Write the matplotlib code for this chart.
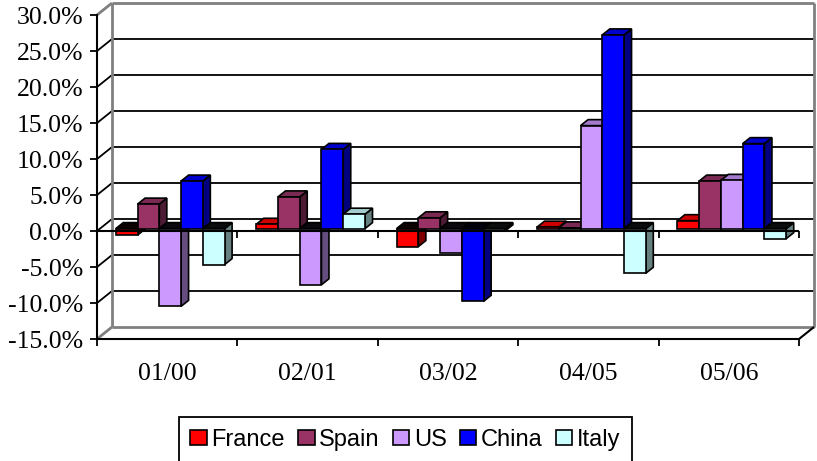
import numpy as np
import matplotlib
matplotlib.use('Agg')
import matplotlib.pyplot as plt
from matplotlib.patches import Polygon, Patch
from matplotlib.colors import to_rgb

# data (percent change)
periods = ['01/00', '02/01', '03/02', '04/05', '05/06']
countries = ['France', 'Spain', 'US', 'China', 'Italy']
colors = ['#FF0000', '#993366', '#CC99FF', '#0000FF', '#CCFFFF']
france = [-0.9, 0.6, -2.5, 0.2, 1.1]
spain = [3.4, 4.4, 1.5, 0.1, 6.6]
us = [-10.8, -7.8, -3.4, 14.3, 6.7]
china = [6.6, 11.0, -10.1, 26.9, 11.8]
italy = [-5.0, 2.0, -0.3, -6.2, -1.4]
series = [france, spain, us, china, italy]
yticks = [-15, -10, -5, 0, 5, 10, 15, 20, 25, 30]

W, H = 817, 461
fig = plt.figure(figsize=(W / 100, H / 100), dpi=100)
ax = fig.add_axes([97 / W, (H - 339) / H, 702 / W, 324 / H])
ax.set_xlim(0, 5)
ax.set_ylim(-15, 30)

# depth offset of the pseudo 3d box, in data units
px_x = 5 / 702.0
px_y = 45 / 324.0
DX = 15 * px_x
DY = 12 * px_y

grey = '#808080'
def line(xs, ys, c='black', lw=1.3, z=1):
    ax.plot(xs, ys, color=c, lw=lw, zorder=z, clip_on=False, solid_capstyle='butt')

# back wall + side wall gridlines
for v in yticks[1:-1]:
    line([DX, 5 + DX], [v + DY, v + DY])
    line([0, DX], [v, v + DY])
line([DX, 5 + DX], [30 + DY, 30 + DY], grey, 2)
line([DX, 5 + DX], [-15 + DY, -15 + DY], grey, 2)
line([DX, DX], [-15 + DY, 30 + DY], grey, 2)
line([5 + DX, 5 + DX], [-15 + DY, 30 + DY], grey, 2)
line([0, DX], [30, 30 + DY], grey, 2)
line([0, DX], [-15, -15 + DY], grey, 2)
line([5, 5 + DX], [-15, -15 + DY], 'black', 1.5)

# bars
f = 0.2   # front of bars, fraction of depth
d = 0.5   # bar depth, fraction of depth
bw = 0.155
start = (1 - 5 * bw) / 2
base = f * DY
ox, oy = d * DX, d * DY

def shade(c, k):
    return tuple(np.array(to_rgb(c)) * k)

z = 3
for i in range(len(periods)):
    for j, vals in enumerate(series):
        v = vals[i]
        c = colors[j]
        x0 = i + start + j * bw + f * DX
        x1 = x0 + bw
        top = base + v
        side = [(x1, base), (x1, top), (x1 + ox, top + oy), (x1 + ox, base + oy)]
        ax.add_patch(Polygon(side, closed=True, fc=shade(c, 0.5), ec='black', lw=1.2, zorder=z, clip_on=False))
        if v >= 0:
            cap = [(x0, top), (x1, top), (x1 + ox, top + oy), (x0 + ox, top + oy)]
            ax.add_patch(Polygon(cap, closed=True, fc=shade(c, 0.8), ec='black', lw=1.2, zorder=z, clip_on=False))
        else:
            cap = [(x0, base), (x1, base), (x1 + ox, base + oy), (x0 + ox, base + oy)]
            ax.add_patch(Polygon(cap, closed=True, fc=shade(c, 0.05), ec='black', lw=1.2, zorder=z, clip_on=False))
        ax.bar(x0, v, width=bw, bottom=base, align='edge', color=c, edgecolor='black',
               linewidth=1.2, zorder=z, clip_on=False)
        z += 0.01

# category axis at zero
line([0, 5], [0, 0], 'black', 1.5, 20)
for k in range(1, 6):
    line([k, k], [0, -7 * px_y], 'black', 1.3, 20)

# axes styling
for s in ['top', 'right']:
    ax.spines[s].set_visible(False)
ax.spines['left'].set_linewidth(1.5)
ax.spines['bottom'].set_linewidth(1.5)
ax.spines['left'].set_zorder(20)
ax.set_yticks(yticks)
ax.set_yticklabels(['%.1f%%' % t for t in yticks], family='Liberation Serif', fontsize=18.5)
ax.tick_params(axis='y', direction='out', length=5, width=1.3, pad=5)
ax.set_xticks(np.arange(5) + 0.5)
ax.set_xticklabels(periods, family='Liberation Serif', fontsize=18.5)
ax.set_xticks(np.arange(6), minor=True)
ax.tick_params(axis='x', which='major', length=0, pad=17)
ax.tick_params(axis='x', which='minor', direction='out', length=5, width=1.3)
ax.patch.set_visible(False)

handles = [Patch(facecolor=c, edgecolor='black', linewidth=1.2) for c in colors]
leg = fig.legend(handles, countries, loc='center', bbox_to_anchor=(405.5 / W, 1 - 439.5 / H),
                 ncol=5, prop={'family': 'Liberation Sans', 'size': 17},
                 handlelength=0.7, handleheight=0.6, handletextpad=0.2, columnspacing=0.55,
                 borderpad=0.5, borderaxespad=0, fancybox=False, framealpha=1)
leg.get_frame().set_edgecolor('black')
leg.get_frame().set_linewidth(1.3)

fig.savefig('out.png', dpi=100)
